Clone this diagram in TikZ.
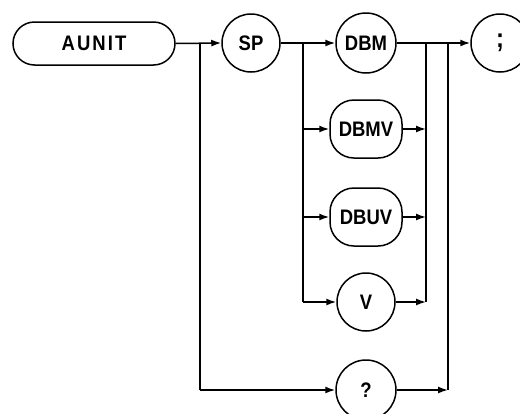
\documentclass[tikz,border=0pt]{standalone}
\usepackage{fontspec}
\setmainfont{Liberation Sans}
\newfontfamily\diagfont[FakeStretch=0.88]{Liberation Sans}
\usetikzlibrary{arrows.meta,shapes.misc}
\begin{document}
\begin{tikzpicture}[x=1pt,y=-1pt,
  line width=1.5pt,
  every node/.style={font=\diagfont\bfseries\fontsize{21}{24}\selectfont, inner sep=0pt},
  circ/.style={draw, circle, minimum size=58pt},
  oval/.style={draw, rounded corners=24pt, minimum width=72pt, minimum height=58pt},
  term/.style={draw, rounded rectangle, minimum width=162pt, minimum height=43pt},
  arr/.style={-{Latex[length=10pt,width=7pt]}},
  ln/.style={-}
]
\clip (0,0) rectangle (520,413);
\useasboundingbox (0,0) rectangle (520,413);

\node[term] (aunit) at (94,43.5) {\addfontfeature{LetterSpace=10}AUNIT};
\node[circ] (sp) at (251,43) {SP};
\node[circ, minimum size=60pt] (dbm) at (366,43) {DBM};
\node[oval] (dbmv) at (366,129) {DBMV};
\node[oval] (dbuv) at (366,217) {DBUV};
\node[circ] (v) at (366,302) {V};
\node[circ, minimum size=60pt] (q) at (366,390) {?};
\node[circ] (semi) at (500,43) {\fontsize{27}{30}\selectfont ;};

\coordinate (ja) at (200,43);
\coordinate (jab) at (200,390);
\coordinate (js) at (303,43);
\coordinate (jsv) at (303,302);
\coordinate (jr1) at (426,43);
\coordinate (jr1b) at (426,302);
\coordinate (jr2) at (448,43);
\coordinate (jr2b) at (448,390);

\draw[arr] (aunit.east) -- (sp.west);
\draw[arr] (sp.east) -- (dbm.west);
\draw[arr] (dbm.east) -- (semi.west);

\draw[ln] (ja) -- (jab);
\draw[arr] (jab) -- (q.west);

\draw[ln] (js) -- (jsv);
\draw[arr] (js |- dbmv) -- (dbmv.west);
\draw[arr] (js |- dbuv) -- (dbuv.west);
\draw[arr] (jsv) -- (v.west);

\draw[ln] (jr1) -- (jr1b);
\draw[arr] (dbmv.east) -- (jr1 |- dbmv);
\draw[arr] (dbuv.east) -- (jr1 |- dbuv);
\draw[arr] (v.east) -- (jr1b);

\draw[ln] (jr2) -- (jr2b);
\draw[arr] (q.east) -- (jr2b);
\end{tikzpicture}
\end{document}
